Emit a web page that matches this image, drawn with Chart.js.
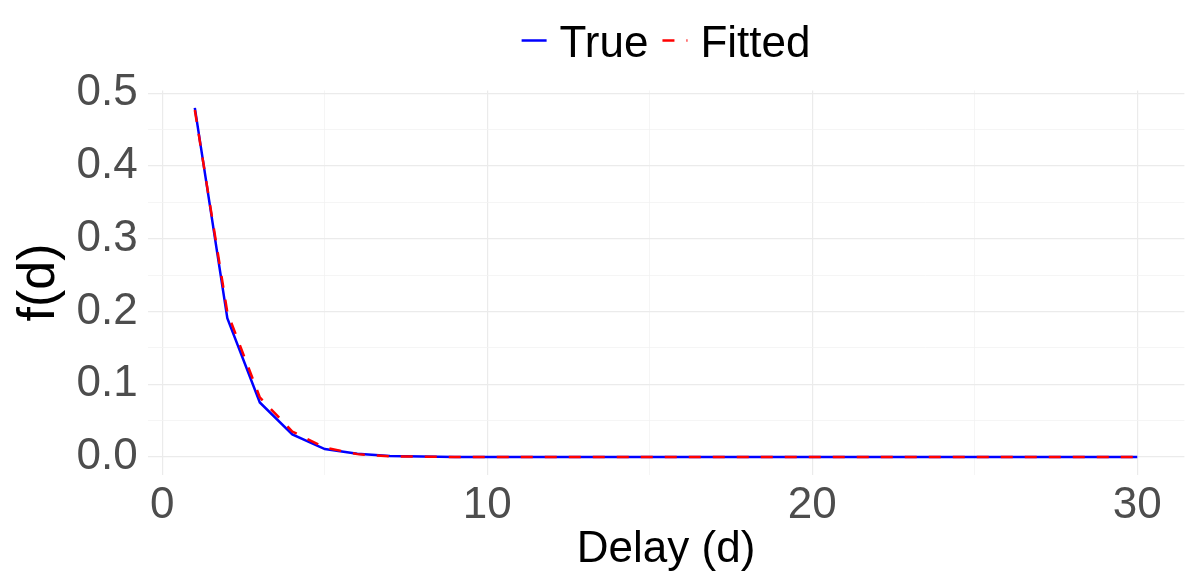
<!DOCTYPE html>
<html>
<head>
<meta charset="utf-8">
<script src="https://cdn.jsdelivr.net/npm/chart.js@4.4.1/dist/chart.umd.min.js"></script>
<style>
  html, body { margin: 0; padding: 0; background: #fff; }
</style>
</head>
<body>
<canvas id="delayChart" width="1194" height="583"></canvas>
<script>
// delay days and the two density curves
const days = [1, 2, 3, 4, 5, 6, 7, 8, 9, 10, 11, 12, 13, 14, 15,
              16, 17, 18, 19, 20, 21, 22, 23, 24, 25, 26, 27, 28, 29, 30];
const trueDensity = [0.480, 0.191, 0.075, 0.031, 0.011, 0.0045, 0.0015, 0.0006, 0.0002, 0.0001,
                     0, 0, 0, 0, 0, 0, 0, 0, 0, 0, 0, 0, 0, 0, 0, 0, 0, 0, 0, 0];
const fittedDensity = [0.477, 0.199, 0.082, 0.035, 0.013, 0.004, 0.001, 0.0004, 0.0001, 0,
                       0, 0, 0, 0, 0, 0, 0, 0, 0, 0, 0, 0, 0, 0, 0, 0, 0, 0, 0, 0];
const xTickLabels = [0, 10, 20, 30];
const yTickLabels = [0, 0.1, 0.2, 0.3, 0.4, 0.5];

const FONT = '"Liberation Sans", Arial, sans-serif';

const isMajor = (v, list) => list.some(t => Math.abs(t - v) < 1e-6);

// ggplot-style legend above the panel, centred on the plot area
const ggLegend = {
  id: 'ggLegend',
  afterDraw(chart) {
    const ctx = chart.ctx;
    const area = chart.chartArea;
    const keyW = 25, keyGap = 13, itemGap = 14;
    ctx.save();
    ctx.font = '44px ' + FONT;
    const items = chart.data.datasets.map(ds => ({
      text: ds.label, color: ds.borderColor, dash: ds.borderDash || [],
      width: ds.borderWidth, tw: ctx.measureText(ds.label).width
    }));
    let total = 0;
    items.forEach((it, i) => { total += keyW + keyGap + it.tw + (i ? itemGap : 0); });
    let x = (area.left + area.right) / 2 - total / 2;
    items.forEach(it => {
      ctx.beginPath();
      ctx.setLineDash(it.dash);
      ctx.lineWidth = it.width;
      ctx.strokeStyle = it.color;
      ctx.moveTo(x, 40.5);
      ctx.lineTo(x + keyW, 40.5);
      ctx.stroke();
      ctx.setLineDash([]);
      ctx.fillStyle = '#000';
      ctx.textBaseline = 'alphabetic';
      ctx.fillText(it.text, x + keyW + keyGap, 57);
      x += keyW + keyGap + it.tw + itemGap;
    });
    ctx.restore();
  }
};

const ctx = document.getElementById('delayChart').getContext('2d');
const delayChart = new Chart(ctx, {
  type: 'line',
  data: {
    datasets: [{
      label: 'True',
      data: days.map((d, i) => ({ x: d, y: trueDensity[i] })),
      borderColor: '#0000FF',
      borderWidth: 2.5,
      pointRadius: 0,
      tension: 0,
      order: 2
    }, {
      label: 'Fitted',
      data: days.map((d, i) => ({ x: d, y: fittedDensity[i] })),
      borderColor: '#FF0000',
      borderWidth: 2.5,
      borderDash: [12, 12],
      pointRadius: 0,
      tension: 0,
      order: 1
    }]
  },
  options: {
    responsive: false,
    animation: false,
    devicePixelRatio: 1,
    layout: { padding: { top: 90.4, right: 9.6, bottom: 0, left: 0 } },
    plugins: {
      legend: { display: false },
      tooltip: { enabled: false }
    },
    scales: {
      x: {
        type: 'linear',
        min: -0.45,
        max: 31.45,
        border: { display: false },
        grid: {
          drawTicks: false,
          color: c => isMajor(c.tick.value, xTickLabels) ? '#EBEBEB' : '#F3F3F3',
          lineWidth: c => isMajor(c.tick.value, xTickLabels) ? 1.2 : 0.8
        },
        ticks: {
          stepSize: 5,
          includeBounds: false,
          autoSkip: false,
          maxRotation: 0,
          padding: 5,
          color: '#4D4D4D',
          font: { family: FONT, size: 44 },
          callback: v => isMajor(v, xTickLabels) ? String(v) : ''
        },
        title: {
          display: true,
          text: 'Delay (d)',
          color: '#000',
          font: { family: FONT, size: 44 },
          padding: { top: 0, bottom: 7 }
        },
        afterFit: scale => { scale.height = 108.5; }
      },
      y: {
        type: 'linear',
        min: -0.024,
        max: 0.504,
        border: { display: false },
        grid: {
          drawTicks: false,
          color: c => isMajor(c.tick.value, yTickLabels) ? '#EBEBEB' : '#F3F3F3',
          lineWidth: c => isMajor(c.tick.value, yTickLabels) ? 1.2 : 0.8
        },
        ticks: {
          stepSize: 0.05,
          includeBounds: false,
          autoSkip: false,
          padding: 10,
          color: '#4D4D4D',
          font: { family: FONT, size: 44 },
          callback: v => isMajor(v, yTickLabels) ? v.toFixed(1) : ''
        },
        title: {
          display: true,
          text: 'f(d)',
          color: '#000',
          font: { family: FONT, size: 52 },
          padding: { top: 8, bottom: 0 }
        },
        afterFit: scale => { scale.width = 147.7; }
      }
    }
  },
  plugins: [ggLegend]
});
</script>
</body>
</html>
